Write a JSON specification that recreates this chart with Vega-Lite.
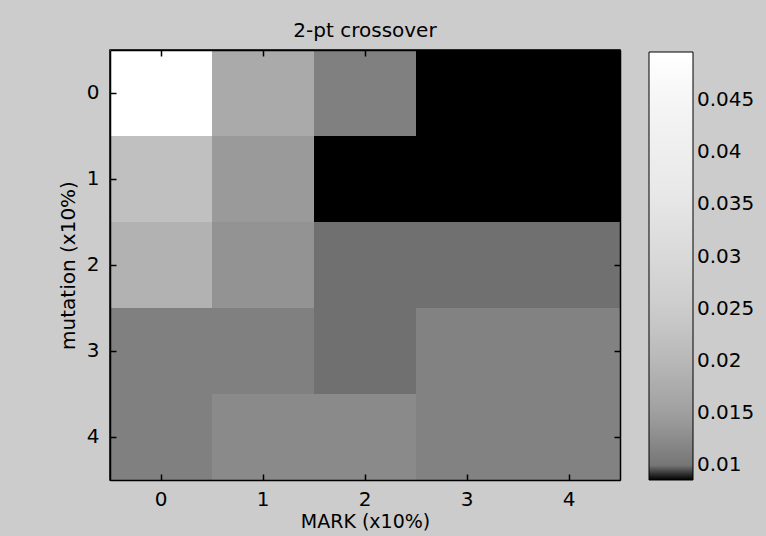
{
  "$schema": "https://vega.github.io/schema/vega-lite/v6.json",
  "width": 510,
  "height": 430,
  "autosize": {"type": "none"},
  "padding": {"left": 110, "top": 50, "right": 146, "bottom": 56},
  "background": "#cccccc",
  "title": {"text": "2-pt crossover", "font": "DejaVu Sans", "fontSize": 20, "fontWeight": "normal", "color": "#000000", "anchor": "middle", "offset": 8, "frame": "group"},
  "data": {"values": [
    {"mark": 0, "mutation": 0, "value": 0.0496},
    {"mark": 1, "mutation": 0, "value": 0.0171},
    {"mark": 2, "mutation": 0, "value": 0.0112},
    {"mark": 3, "mutation": 0, "value": 0.0086},
    {"mark": 4, "mutation": 0, "value": 0.0086},
    {"mark": 0, "mutation": 1, "value": 0.0220},
    {"mark": 1, "mutation": 1, "value": 0.0143},
    {"mark": 2, "mutation": 1, "value": 0.0086},
    {"mark": 3, "mutation": 1, "value": 0.0086},
    {"mark": 4, "mutation": 1, "value": 0.0086},
    {"mark": 0, "mutation": 2, "value": 0.0188},
    {"mark": 1, "mutation": 2, "value": 0.01345},
    {"mark": 2, "mutation": 2, "value": 0.0097},
    {"mark": 3, "mutation": 2, "value": 0.0097},
    {"mark": 4, "mutation": 2, "value": 0.0097},
    {"mark": 0, "mutation": 3, "value": 0.0112},
    {"mark": 1, "mutation": 3, "value": 0.0112},
    {"mark": 2, "mutation": 3, "value": 0.0097},
    {"mark": 3, "mutation": 3, "value": 0.0114},
    {"mark": 4, "mutation": 3, "value": 0.0114},
    {"mark": 0, "mutation": 4, "value": 0.0112},
    {"mark": 1, "mutation": 4, "value": 0.0124},
    {"mark": 2, "mutation": 4, "value": 0.0124},
    {"mark": 3, "mutation": 4, "value": 0.0114},
    {"mark": 4, "mutation": 4, "value": 0.0114}
  ]},
  "layer": [
    {
      "mark": {"type": "rect"},
      "encoding": {
        "x": {"field": "mark", "type": "ordinal", "scale": {"paddingInner": 0, "paddingOuter": 0},
              "axis": {"orient": "bottom", "title": "MARK (x10%)", "labelPadding": 15, "titlePadding": 3, "titleFontSize": 19}},
        "y": {"field": "mutation", "type": "ordinal", "scale": {"paddingInner": 0, "paddingOuter": 0},
              "axis": {"orient": "left", "title": "mutation (x10%)", "titlePadding": 8}},
        "color": {"field": "value", "type": "quantitative",
          "scale": {"type": "linear", "interpolate": "rgb",
            "domain": [0.0086, 0.0093, 0.00935, 0.01, 0.015, 0.02, 0.025, 0.035, 0.045, 0.0496],
            "range": ["#000000", "#000000", "#6a6a6a", "#767676", "#a0a0a0", "#b8b8b8", "#cccccc", "#e6e6e6", "#f6f6f6", "#ffffff"]},
          "legend": {"type": "gradient", "orient": "none", "legendX": 539, "legendY": 2, "direction": "vertical",
            "gradientLength": 428, "gradientThickness": 44, "gradientStrokeColor": "#000000", "gradientStrokeWidth": 1,
            "values": [0.01, 0.015, 0.02, 0.025, 0.03, 0.035, 0.04, 0.045], "labelExpr": "'' + datum.value",
            "labelFont": "DejaVu Sans", "labelFontSize": 20, "labelColor": "#000000", "labelOffset": 4,
            "labelOverlap": false, "title": null, "padding": 0}
        }
      }
    },
    {
      "mark": {"type": "rect", "opacity": 0},
      "encoding": {
        "x": {"field": "mark", "type": "ordinal", "axis": {"orient": "top", "labels": false, "title": null}},
        "y": {"field": "mutation", "type": "ordinal", "axis": {"orient": "right", "labels": false, "title": null}}
      }
    }
  ],
  "resolve": {"axis": {"x": "independent", "y": "independent"}},
  "config": {
    "view": {"stroke": "#000000", "strokeWidth": 1.5},
    "axis": {"domainColor": "#000000", "domainWidth": 1.5, "tickColor": "#000000", "tickSize": -6, "tickWidth": 1.5,
      "labelPadding": 17, "labelFont": "DejaVu Sans", "labelFontSize": 20, "labelColor": "#000000", "labelAngle": 0,
      "titleFont": "DejaVu Sans", "titleFontSize": 20, "titleFontWeight": "normal", "titleColor": "#000000", "grid": false}
  }
}
